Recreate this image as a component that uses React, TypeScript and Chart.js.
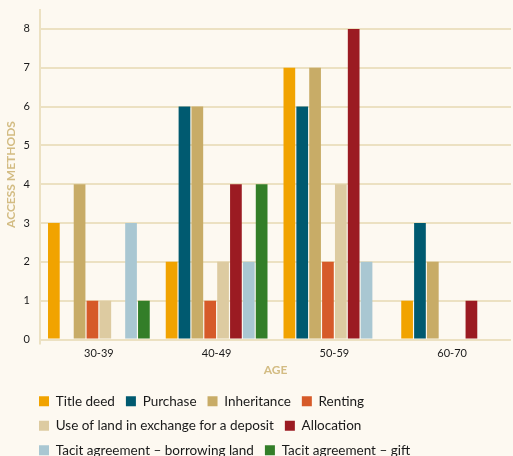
import React, { useEffect, useRef } from 'react';
import { Chart, registerables } from 'chart.js';

Chart.register(...registerables);

const categories = ['30-39', '40-49', '50-59', '60-70'];
const seriesNames = [
  'Title deed',
  'Purchase',
  'Inheritance',
  'Renting',
  'Use of land in exchange for a deposit',
  'Allocation',
  'Tacit agreement – borrowing land',
  'Tacit agreement – gift',
];
const titleDeed = [3, 2, 7, 1];
const purchase = [0, 6, 6, 3];
const inheritance = [4, 6, 7, 2];
const renting = [1, 1, 2, 0];
const useOfLand = [1, 2, 4, 0];
const allocation = [0, 4, 8, 1];
const tacitBorrowing = [3, 2, 2, 0];
const tacitGift = [1, 4, 0, 0];
const seriesValues = [titleDeed, purchase, inheritance, renting, useOfLand, allocation, tacitBorrowing, tacitGift];
const seriesColors = ['#f1a300', '#005a70', '#c8ac67', '#d65a29', '#ddcba1', '#9b1b22', '#a9c7d2', '#337e28'];
const yTickValues = [0, 1, 2, 3, 4, 5, 6, 7, 8];
const yAxisTitle = 'ACCESS METHODS';
const xAxisTitle = 'AGE';

const BG = '#fdf9f1';
const GRID = '#ece1c2';
const GOLD = '#d3bc83';
const TEXT = '#1a1a1a';
const FONT = 'Lato';
const CLEAR = 'rgba(0,0,0,0)';

const legendShift = {
  id: 'legendShift',
  afterLayout(chart: any) {
    if (chart.legend) chart.legend.left = 28;
  },
};

export default function App() {
  const ref = useRef<HTMLCanvasElement | null>(null);
  useEffect(() => {
    if (!ref.current) return;
    const chart = new Chart(ref.current, {
      type: 'bar',
      data: {
        labels: categories,
        datasets: seriesNames.map((name, i) => ({
          label: name,
          data: seriesValues[i],
          backgroundColor: seriesColors[i],
          borderColor: seriesColors[i],
          borderWidth: 0,
          barPercentage: 0.91,
          categoryPercentage: 0.874,
        })),
      },
      plugins: [legendShift],
      options: {
        responsive: false,
        animation: false,
        layout: { padding: { top: 9.5, left: 0, right: 2, bottom: -11 } },
        plugins: {
          tooltip: { enabled: false },
          legend: {
            position: 'bottom',
            align: 'start',
            labels: {
              boxWidth: 10,
              boxHeight: 10,
              padding: 11,
              color: TEXT,
              font: { family: FONT, size: 13.5 },
            },
          },
        },
        scales: {
          x: {
            offset: true,
            border: { display: false },
            grid: {
              display: true,
              drawOnChartArea: false,
              drawTicks: true,
              tickLength: 5,
              lineWidth: 2,
              color: (ctx: any) => (ctx.index === 0 ? GRID : CLEAR),
            },
            ticks: { color: TEXT, font: { family: FONT, size: 11 }, padding: 2 },
            title: {
              display: true,
              text: xAxisTitle,
              color: GOLD,
              font: { family: FONT, size: 12, weight: 'bold' },
              padding: { top: 0, bottom: 6 },
            },
            afterFit: (scale: any) => {
              scale.height = 44;
            },
          },
          y: {
            min: 0,
            max: 8.5,
            border: { display: true, color: GRID, width: 2 },
            grid: { color: GRID, lineWidth: 2, drawTicks: true, tickLength: 8, tickColor: CLEAR },
            ticks: { stepSize: 1, color: TEXT, font: { family: FONT, size: 11 }, padding: 2 },
            afterBuildTicks: (scale: any) => {
              scale.ticks = yTickValues.map((v) => ({ value: v }));
            },
            title: {
              display: true,
              text: yAxisTitle,
              color: GOLD,
              font: { family: FONT, size: 12, weight: 'bold' },
              padding: { top: 4, bottom: 4 },
            },
            afterFit: (scale: any) => {
              scale.width = 40;
            },
          },
        },
      },
    });
    return () => chart.destroy();
  }, []);
  return (
    <div style={{ position: 'absolute', left: 0, top: 0, width: 513, height: 456, background: BG }}>
      <canvas ref={ref} width={513} height={456} style={{ display: 'block', width: 513, height: 456 }} />
    </div>
  );
}
